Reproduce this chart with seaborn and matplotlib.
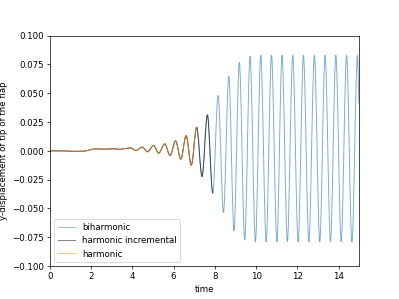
import pandas as pd
import matplotlib
matplotlib.use("Agg")
import matplotlib.pyplot as plt
from matplotlib.path import Path
from matplotlib.patches import PathPatch
from matplotlib.lines import Line2D
import seaborn as sns

# -------------------------------
# Data: extrema of the flap tip displacement
time = [0.0, 0.6, 1.2, 1.6, 2.2, 2.7, 3.1, 3.4, 3.65, 3.92, 4.16, 4.48, 4.74,
        5.03, 5.28, 5.57, 5.83, 6.10, 6.35, 6.61, 6.86, 7.12, 7.38, 7.64, 7.90,
        8.16, 8.42, 8.68, 8.93, 9.19, 9.45, 9.71, 9.97, 10.23, 10.49, 10.75,
        11.01, 11.26, 11.52, 11.78, 12.04, 12.30, 12.56, 12.83, 13.09, 13.35,
        13.61, 13.87, 14.13, 14.39, 14.65, 14.92, 15.0]
disp = [0.0, 0.0, -0.0004, -0.0003, 0.0017, 0.0015, 0.0018, 0.0013, 0.0020,
        0.0026, 0.0003, 0.0032, -0.0008, 0.0047, -0.0020, 0.0061, -0.0040,
        0.0087, -0.0072, 0.0132, -0.0125, 0.0206, -0.0223, 0.0313, -0.0368,
        0.0481, -0.0536, 0.0646, -0.0693, 0.0768, -0.0774, 0.0820, -0.0791,
        0.083, -0.079, 0.083, -0.079, 0.083, -0.079, 0.083, -0.079, 0.083,
        -0.079, 0.083, -0.079, 0.083, -0.079, 0.083, -0.079, 0.083, -0.079,
        0.083, 0.040]

# where the shorter runs stop
harmonic_incremental_end = 7.90
harmonic_end = 7.12

labels = ["biharmonic", "harmonic incremental", "harmonic"]

df = pd.DataFrame({"time": time, "disp": disp})
runs = [df,
        df[df["time"] <= harmonic_incremental_end],
        df[df["time"] <= harmonic_end]]

pal = sns.color_palette("tab10")
colors = [pal[0], "k", pal[1]]
alphas = [0.6, 0.6, 0.75]


def smooth_path(d):
    # bezier segments with flat tangents at each extremum, drawn by matplotlib
    t = d["time"].tolist()
    y = d["disp"].tolist()
    verts = [(t[0], y[0])]
    codes = [Path.MOVETO]
    for i in range(1, len(t)):
        h = t[i] - t[i - 1]
        verts += [(t[i - 1] + h / 3, y[i - 1]), (t[i] - h / 3, y[i]), (t[i], y[i])]
        codes += [Path.CURVE4] * 3
    return Path(verts, codes)


# -------------------------------
fig, ax = plt.subplots(figsize=(6.4, 4.8), dpi=62.35)

handles = []
for d, c, a, lab in zip(runs, colors, alphas, labels):
    ax.add_patch(PathPatch(smooth_path(d), fill=False, edgecolor=c, lw=1.1, alpha=a))
    handles.append(Line2D([], [], color=c, lw=1.1, alpha=0.5, label=lab))

ax.set_xlim(0, 15)
ax.set_ylim(-0.1, 0.1)
ax.set_xlabel("time")
ax.set_ylabel("y-displacement of tip of the flap")
ax.legend(handles=handles, loc="lower left")

fig.savefig("out.png", dpi=62.35)
